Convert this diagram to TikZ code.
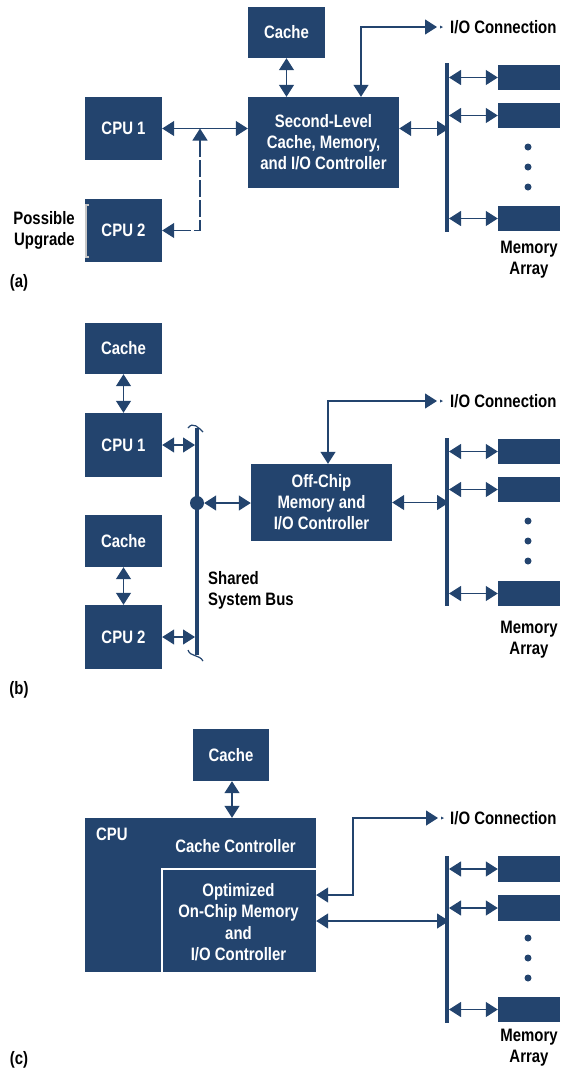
\documentclass[tikz,border=0pt]{standalone}
\usepackage{fontspec}
\setmainfont{Liberation Sans}[FakeStretch=0.83, UprightFont=*, BoldFont=* Bold]
\usetikzlibrary{arrows.meta}
\definecolor{hpblue}{HTML}{23446E}
\begin{document}
\begin{tikzpicture}[x=1pt,y=-1pt,
  every node/.style={font=\bfseries\fontsize{18}{21}\selectfont, inner sep=0pt, align=center},
  blk/.style={fill=hpblue, draw=none, text=white},
  mem/.style={fill=hpblue, draw=none, minimum width=62pt, minimum height=25pt},
  con/.style={draw=hpblue, line width=1.2pt},
  bi/.style={con, {Triangle[length=12pt,width=15pt]}-{Triangle[length=12pt,width=15pt]}},
  bus/.style={draw=hpblue, line width=4pt},
  dotm/.style={circle, fill=hpblue, minimum size=7pt},
  lbl/.style={text=black},
  tick/.style={fill=hpblue}
]
\useasboundingbox (0,0) rectangle (561,1072);

% ================= (a) =================
\node[blk, minimum width=77pt, minimum height=51pt] (cacheA) at (286.5,32.5) {Cache};
\node[blk, minimum width=151pt, minimum height=91pt] (slA) at (323.5,142.5) {Second-Level\\Cache, Memory,\\and I/O Controller};
\node[blk, minimum width=77pt, minimum height=63pt] (cpu1A) at (123.5,128.5) {CPU 1};
\node[blk, minimum width=77pt, minimum height=63pt] (cpu2A) at (123.5,230.5) {CPU 2};
\node[lbl, anchor=east, align=right] (upA) at (75,230) {Possible\\Upgrade};
\draw[gray!45, line width=1.2pt] (89,205) -- (86,205) -- (86,257) -- (89,257);
\node[lbl] (labA) at (19,283) {(a)};
\coordinate (jA) at (200,128.5);

\draw[bi] (cacheA.south) -- (cacheA.south |- slA.north);
\draw[bi] (cpu1A.east) -- (slA.west |- cpu1A.east);
\draw[bi, dash pattern=on 17pt off 3pt] (cpu2A.east) -- (jA |- cpu2A.east) -- (jA);

\node[lbl, anchor=west] (ioTA) at (450,27) {I/O Connection};
\coordinate (ioEndA) at (437,27);
\draw[bi] (ioEndA) -| ([xshift=37.5pt]slA.north);
\fill[tick] (440,25.5) -- (443,27) -- (440,28.5) -- cycle;

\coordinate (busAtop) at (447,63);
\coordinate (busAbot) at (447,232);
\draw[bus] (busAtop) -- (busAbot);
\coordinate (busAx) at (449,0);
\node[mem] (memA1) at (529,77.5) {};
\node[mem] (memA2) at (529,115.5) {};
\node[mem] (memA3) at (529,218.5) {};
\draw[bi] (memA1.west) -- (memA1.west -| busAx);
\draw[bi] (memA2.west) -- (memA2.west -| busAx);
\draw[bi] (memA3.west) -- (memA3.west -| busAx);
\draw[bi] (slA.east |- jA) -- (busAx |- jA);
\node[dotm] (dA1) at (528,147) {};
\node[dotm] (dA2) at (528,167) {};
\node[dotm] (dA3) at (528,187) {};
\node[lbl] (maA) at (529,259.5) {Memory\\Array};

% ================= (b) =================
\node[blk, minimum width=77pt, minimum height=51pt] (cacheB1) at (123.5,348.5) {Cache};
\node[blk, minimum width=77pt, minimum height=64pt] (cpuB1) at (123.5,445) {CPU 1};
\node[blk, minimum width=77pt, minimum height=52pt] (cacheB2) at (123.5,541) {Cache};
\node[blk, minimum width=77pt, minimum height=64pt] (cpuB2) at (123.5,637) {CPU 2};
\draw[bi] (cacheB1.south) -- (cpuB1.north);
\draw[bi] (cacheB2.south) -- (cpuB2.north);

\coordinate (busBtop) at (197,428);
\coordinate (busBbot) at (197,655);
\draw[bus, line width=4.5pt] (busBtop) -- (busBbot);
\draw[con] (188,428) .. controls (193,421) and (199,428) .. (203,432);
\draw[con] (188,650) .. controls (190,657) and (199,654) .. (203,661);
\coordinate (busBx) at (195,0);
\draw[bi] (cpuB1.east) -- (cpuB1.east -| busBx);
\draw[bi] (cpuB2.east) -- (cpuB2.east -| busBx);
\node[circle, fill=hpblue, minimum size=14pt] (dotB) at (197,503) {};
\node[blk, minimum width=141pt, minimum height=77pt] (offB) at (321.5,502.5) {Off-Chip\\Memory and\\I/O Controller};
\draw[bi] (dotB.east) -- (offB.west |- dotB.east);
\node[lbl, anchor=west, align=left] (sbB) at (208,590) {Shared\\System Bus};
\node[lbl] (labB) at (19,690) {(b)};

\node[lbl, anchor=west] (ioTB) at (450,401) {I/O Connection};
\coordinate (ioEndB) at (437,401);
\draw[bi] (ioEndB) -| ([xshift=6.5pt]offB.north);
\fill[tick] (440,399.5) -- (443,401) -- (440,402.5) -- cycle;

\coordinate (busBtop2) at (447,438);
\coordinate (busBbot2) at (447,606);
\draw[bus] (busBtop2) -- (busBbot2);
\coordinate (busB2x) at (449,0);
\node[mem] (memB1) at (529,451.5) {};
\node[mem] (memB2) at (529,489.5) {};
\node[mem] (memB3) at (529,593.5) {};
\draw[bi] (memB1.west) -- (memB1.west -| busB2x);
\draw[bi] (memB2.west) -- (memB2.west -| busB2x);
\draw[bi] (memB3.west) -- (memB3.west -| busB2x);
\draw[bi] (offB.east) -- (offB.east -| busB2x);
\node[dotm] (dB1) at (528,521) {};
\node[dotm] (dB2) at (528,541) {};
\node[dotm] (dB3) at (528,561) {};
\node[lbl] (maB) at (529,639.5) {Memory\\Array};

% ================= (c) =================
\node[blk, minimum width=76pt, minimum height=52pt] (cacheC) at (231,755) {Cache};
\node[blk, minimum width=231pt, minimum height=154pt] (cpuC) at (200.5,895) {};
\draw[bi] ([xshift=1pt]cacheC.south) -- ([xshift=1pt]cacheC.south |- cpuC.north);
\node[text=white, anchor=west] (cpuTC) at (96,834) {CPU};
\node[text=white] (ccC) at (235.5,846) {Cache Controller};
\node[text=white, minimum width=154pt, minimum height=103pt, text depth=0pt] (innerC) at (239,920.5) {};
\node[text=white, font=\bfseries\fontsize{18}{21.3}\selectfont] (innerTC) at (238.5,922) {Optimized\\On-Chip Memory\\and\\I/O Controller};
\draw[white, line width=1.5pt] (innerC.south west) -- (innerC.north west) -- (innerC.north east);

\node[lbl, anchor=west] (ioTC) at (450,818) {I/O Connection};
\coordinate (ioEndC) at (438,818);
\draw[bi] (ioEndC) -| (353,895) -- (cpuC.east |- 0,895);
\fill[tick] (441,816.5) -- (444,818) -- (441,819.5) -- cycle;

\coordinate (busCtop) at (447,856);
\coordinate (busCbot) at (447,1023);
\draw[bus] (busCtop) -- (busCbot);
\coordinate (busCx) at (449,0);
\node[mem, minimum height=26pt] (memC1) at (529,869) {};
\node[mem, minimum height=26pt] (memC2) at (529,908) {};
\node[mem] (memC3) at (529,1009.5) {};
\draw[bi] (memC1.west) -- (memC1.west -| busCx);
\draw[bi] (memC2.west) -- (memC2.west -| busCx);
\draw[bi] (memC3.west) -- (memC3.west -| busCx);
\draw[bi] (cpuC.east |- 0,921) -- (busCx |- 0,921);
\node[dotm] (dC1) at (528,938) {};
\node[dotm] (dC2) at (528,958) {};
\node[dotm] (dC3) at (528,978) {};
\node[lbl] (maC) at (529,1048) {Memory\\Array};
\node[lbl] (labC) at (19,1060) {(c)};
\end{tikzpicture}
\end{document}
